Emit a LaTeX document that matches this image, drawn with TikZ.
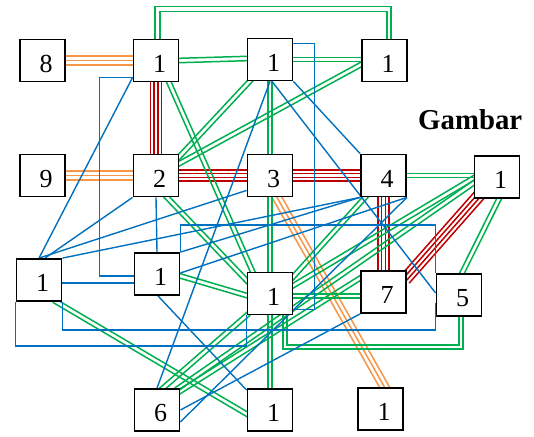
\documentclass[tikz,border=0pt]{standalone}
\usepackage{fontspec}
\setmainfont{Liberation Serif}
\usetikzlibrary{calc,backgrounds}
\definecolor{cgreen}{RGB}{0,176,80}
\definecolor{corange}{RGB}{247,150,70}
\definecolor{cred}{RGB}{192,0,0}
\definecolor{cblue}{RGB}{0,112,192}
\newcommand\mydigit[1]{\hspace*{7pt}\raisebox{-3.3pt}[\height][\depth]{#1}}
% parallel thin bands between two points: style, offsets (macro), start, end
\newcommand\ml[4]{%
  \path ($(#3)!-3pt!(#4)$) coordinate (mlA) ($(#4)!-3pt!(#3)$) coordinate (mlB);
  \foreach \off in #2 {%
    \pgfmathsetlengthmacro\lo{\off-0.75pt}\pgfmathsetlengthmacro\hi{\off+0.75pt}%
    \fill[#1] ($(mlA)!\lo!90:(mlB)$) -- ($(mlB)!\lo!-90:(mlA)$) -- ($(mlB)!\hi!-90:(mlA)$) -- ($(mlA)!\hi!90:(mlB)$) -- cycle;}}
\newcommand\two{-2.2pt,2.2pt}
\newcommand\three{-4.4pt,0pt,4.4pt}
\newcommand\four{-5.7pt,-1.9pt,1.9pt,5.7pt}
\begin{document}
\begin{tikzpicture}[x=1pt,y=-1pt,
  box/.style={draw=black, line width=1.8pt, fill=white, minimum width=45pt, minimum height=42pt, inner sep=0pt, font=\fontsize{26}{26}\selectfont},
  gl/.style={fill=cgreen},
  go/.style={draw=cgreen, line width=1.5pt},
  ol/.style={fill=corange},
  rl/.style={fill=cred},
  blu/.style={draw=cblue, line width=1.4pt}]
\useasboundingbox (0,0) rectangle (534,436);
\node[box] (A) at (42.5,60.5) {\mydigit{8}};
\node[box] (B) at (156,60.5) {\mydigit{1}};
\node[box] (C) at (270,59.5) {\mydigit{1}};
\node[box] (D) at (384.5,60.5) {\mydigit{1}};
\node[box] (E) at (42.5,175.5) {\mydigit{9}};
\node[box] (F) at (156,175.5) {\mydigit{2}};
\node[box] (G) at (270,175.5) {\mydigit{3}};
\node[box] (H) at (383.5,175.5) {\mydigit{4}};
\node[box] (I) at (497,177) {\mydigit{1}};
\node[box] (J) at (39,280) {\mydigit{1}};
\node[box] (K) at (157,274) {\mydigit{1}};
\node[box] (L) at (270,293.5) {\mydigit{1}};
\node[box] (M) at (383.5,292) {\mydigit{7}};
\node[box] (N) at (459,295) {\mydigit{5}};
\node[box] (O) at (157,410) {\mydigit{6}};
\node[box] (P) at (270,410) {\mydigit{1}};
\node[box] (Q) at (380.5,409) {\mydigit{1}};
\node[anchor=base west, inner sep=0pt, font=\fontsize{28.8}{30}\selectfont\bfseries] (T) at (418,129) {Gambar};
\begin{pgfonlayer}{background}
\fill[white] (0,0) rectangle (534,436);
% orange
\ml{ol}{\three}{A.east}{B.west}
\ml{ol}{\three}{E.east}{F.west}
\ml{ol}{\three}{[xshift=7pt]G.south}{[xshift=4pt]Q.north}
% red
\ml{rl}{\four}{B.south}{F.north}
\ml{rl}{\four}{F.east}{G.west}
\ml{rl}{\four}{G.east}{H.west}
\ml{rl}{\four}{H.south}{M.north}
\ml{rl}{\four}{[xshift=5pt,yshift=3pt]I.south west}{[yshift=-7pt]M.north east}
% green
\ml{gl}{\two}{B.east}{[yshift=1pt]C.west}
\draw[go] ([xshift=-1pt]B.north) -- ++(0,-32) -| ([xshift=6.5pt]D.north);
\draw[go] ([xshift=4pt]B.north) -- ++(0,-27) -| ([xshift=2.5pt]D.north);
\ml{gl}{\two}{C.east}{[yshift=1pt]D.west}
\ml{gl}{\two}{[xshift=3pt]C.south west}{[yshift=-3pt]F.north east}
\ml{gl}{\two}{[yshift=-4pt]D.west}{[yshift=12pt]F.east}
\ml{gl}{\two}{[xshift=13pt]B.south}{[xshift=6pt]L.north west}
\ml{gl}{\two}{[xshift=11pt]F.south}{[yshift=13pt]L.west}
\ml{gl}{\two}{C.south}{G.north}
\ml{gl}{\two}{G.south}{L.north}
\ml{gl}{\two}{L.south}{P.north}
\ml{gl}{\two}{H.east}{[yshift=1.5pt]I.west}
\ml{gl}{\two}{[xshift=2pt]I.south}{[xshift=3pt]N.north}
\ml{gl}{\two}{[xshift=5pt]H.south west}{[yshift=-5pt]L.north east}
\ml{gl}{\two}{[yshift=-1pt]I.west}{[yshift=8pt]L.east}
\ml{gl}{\two}{[yshift=-2pt]K.east}{[yshift=-2pt]L.west}
\ml{gl}{\two}{[yshift=-2.5pt]L.east}{[yshift=-4pt]M.west}
\draw[go] ([xshift=4pt]N.south) -- ++(0,32) -| ([xshift=13pt]L.south);
\draw[go] (N.south) -- ++(0,28) -| ([xshift=17pt]L.south);
\ml{gl}{\two}{[xshift=-6pt]J.south east}{[yshift=-4pt]P.west}
\ml{gl}{\two}{[xshift=6pt]O.north}{L.south west}
\ml{gl}{\two}{[xshift=-2pt]O.north east}{[yshift=-6pt]I.west}
\ml{gl}{\two}{[yshift=-3pt]O.north east}{[yshift=-8pt]M.north west}
% blue
\draw[blu] ($(B.south west)+(0,-5)$) -- (J.north);
\draw[blu] ($(B.south west)+(0,-5)$) -- ++(-33,0) |- ($(K.west)+(0,2)$);
\draw[blu] (F.south) -- (K.north);
\draw[blu] (F.south west) -- ($(J.north)+(6,0)$);
\draw[blu] ($(G.south west)+(0,-7)$) -- (J.north);
\draw[blu] (H.south west) -- (J.north east);
\draw[blu] (K.north east) -- (H.south west);
\draw[blu] ($(K.east)+(0,-1)$) -- (H.south east);
\draw[blu] (C.south) -- (O.north);
\draw[blu] ($(C.south)+(2,0)$) -- ($(N.west)+(0,-2)$);
\draw[blu] (C.south east) -- (H.north west);
\draw[blu] ($(C.east)+(0,-16)$) -- ++(21,0) |- ($(L.east)+(0,16)$);
\draw[blu] (K.north east) -- ++(0,-27) -| (N.north west);
\draw[blu] (J.south east) -- ++(0,28) -| ($(N.west)+(0,8)$);
\draw[blu] (M.south west) -- (O.east);
\draw[blu] (H.south east) -- ($(O.east)+(0,12)$);
\draw[blu] ($(K.south)+(1,0)$) -- ($(P.north west)+(0,2)$);
\draw[blu] ($(J.east)+(0,3)$) -- ($(K.west)+(0,9)$);
\draw[blu] (J.south west) -- ++(0,44) -| (L.south west);
\end{pgfonlayer}
\end{tikzpicture}
\end{document}
